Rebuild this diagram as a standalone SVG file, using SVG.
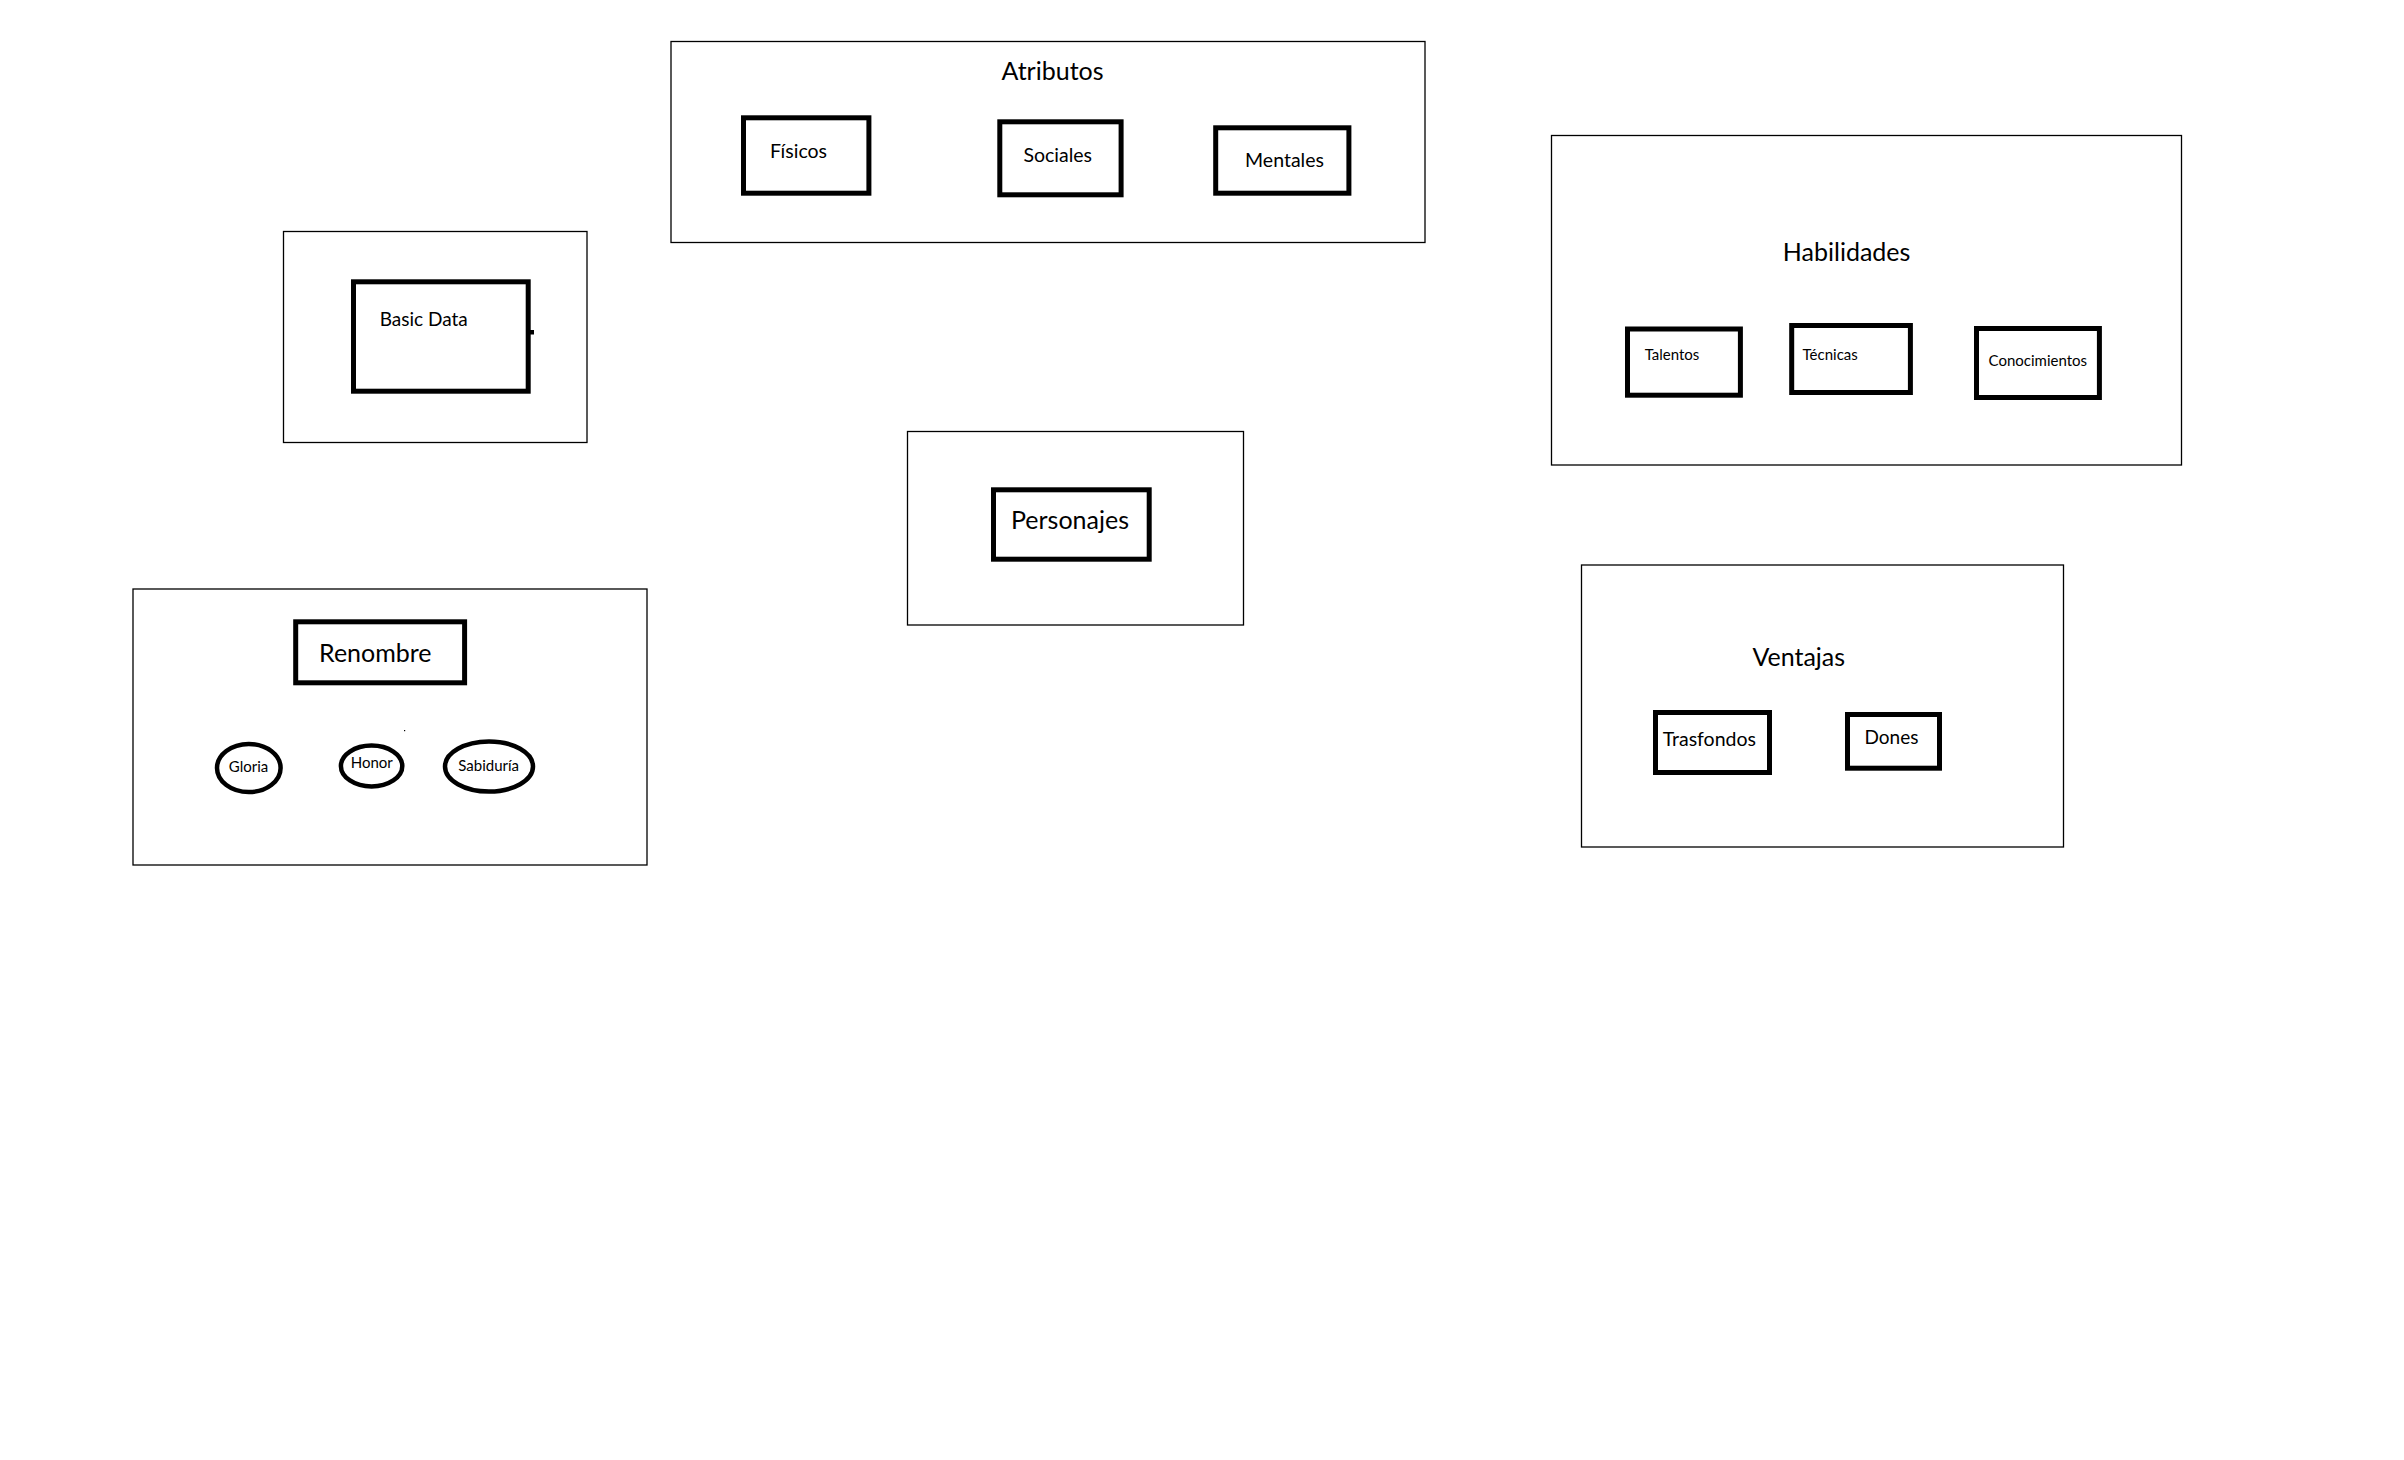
<svg xmlns="http://www.w3.org/2000/svg" width="2404" height="1460" viewBox="0 0 2404 1460">
  <style>
    .frame { fill: none; stroke: #000; stroke-width: 1.3; }
    .box { fill: #fff; stroke: #000; stroke-width: 5; }
    .oval { fill: #fff; stroke: #000; stroke-width: 4.5; }
    text { font-family: Lato, "Liberation Sans", sans-serif; fill: #000; text-anchor: middle; }
    .title { font-size: 25px; }
    .lbl { font-size: 19.5px; }
    .sm { font-size: 15px; }
    .md { font-size: 19.5px; }
  </style>
  <rect width="2404" height="1460" fill="#fff"/>

  <!-- Atributos group -->
  <g id="atributos">
    <rect class="frame" x="671" y="41.5" width="754" height="201"/>
    <text class="title" x="1052.5" y="80">Atributos</text>
    <g id="fisicos">
      <rect class="box" x="743.5" y="117.8" width="125.4" height="75.4"/>
      <text class="lbl" x="798.5" y="158.3">Físicos</text>
    </g>
    <g id="sociales">
      <rect class="box" x="999.8" y="121.8" width="121.3" height="73"/>
      <text class="lbl" x="1057.7" y="162.3">Sociales</text>
    </g>
    <g id="mentales">
      <rect class="box" x="1215.7" y="127.8" width="133.2" height="65.4"/>
      <text class="lbl" x="1284.5" y="166.7">Mentales</text>
    </g>
  </g>

  <!-- Basic Data -->
  <g id="basic-data">
    <rect class="frame" x="283.5" y="231.5" width="303.5" height="211"/>
    <rect class="box" x="353.5" y="281.8" width="174.7" height="109.4"/>
    <rect x="528" y="330" width="6" height="4.5" fill="#000"/>
    <text class="lbl" x="423.7" y="326" style="font-size:19px">Basic Data</text>
  </g>

  <!-- Personajes -->
  <g id="personajes">
    <rect class="frame" x="907.5" y="431.5" width="336" height="193.5"/>
    <rect class="box" x="993.5" y="489.8" width="155.7" height="69.4"/>
    <text class="title" x="1070" y="529">Personajes</text>
  </g>

  <!-- Renombre -->
  <g id="renombre">
    <rect class="frame" x="133" y="589" width="514" height="276"/>
    <rect class="box" x="295.7" y="621.8" width="168.9" height="61"/>
    <text class="title" x="375.3" y="661.7">Renombre</text>
    <rect x="404" y="730" width="1.2" height="1.2" fill="#000"/>
    <g id="gloria">
      <ellipse class="oval" cx="248.8" cy="768" rx="31.8" ry="24.1"/>
      <text class="sm" x="248.5" y="772.3">Gloria</text>
    </g>
    <g id="honor">
      <ellipse class="oval" cx="371.6" cy="766" rx="30.7" ry="20.5"/>
      <text class="sm" x="371.7" y="768.3">Honor</text>
    </g>
    <g id="sabiduria">
      <ellipse class="oval" cx="489" cy="766.5" rx="44" ry="25"/>
      <text class="sm" x="488.7" y="771">Sabiduría</text>
    </g>
  </g>

  <!-- Habilidades -->
  <g id="habilidades">
    <rect class="frame" x="1551.5" y="135.5" width="630" height="329.5"/>
    <text class="title" x="1846.6" y="260.7">Habilidades</text>
    <g id="talentos">
      <rect class="box" x="1627.5" y="329" width="112.9" height="66.2"/>
      <text class="sm" x="1672" y="360">Talentos</text>
    </g>
    <g id="tecnicas">
      <rect class="box" x="1791.7" y="325.5" width="118.7" height="67"/>
      <text class="sm" x="1830.2" y="359.7">Técnicas</text>
    </g>
    <g id="conocimientos">
      <rect class="box" x="1976.5" y="328.5" width="122.9" height="69"/>
      <text class="sm" x="2037.8" y="366.3">Conocimientos</text>
    </g>
  </g>

  <!-- Ventajas -->
  <g id="ventajas">
    <rect class="frame" x="1581.5" y="565" width="482" height="282"/>
    <text class="title" x="1798.8" y="665.7">Ventajas</text>
    <g id="trasfondos">
      <rect class="box" x="1655.5" y="712.5" width="114" height="60"/>
      <text class="md" x="1709.3" y="746">Trasfondos</text>
    </g>
    <g id="dones">
      <rect class="box" x="1847.5" y="714.5" width="92" height="53.7"/>
      <text class="md" x="1891.5" y="744" style="font-size:19px">Dones</text>
    </g>
  </g>

  <g id="connectors"/>
</svg>
